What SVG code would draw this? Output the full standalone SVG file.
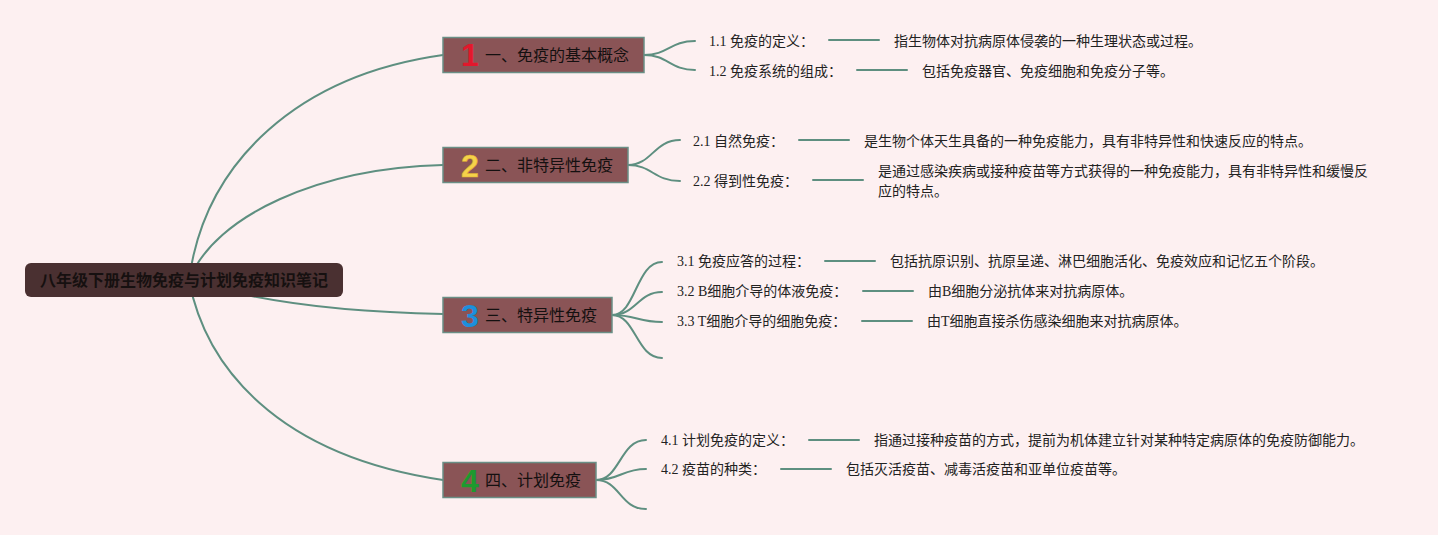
<svg xmlns="http://www.w3.org/2000/svg" width="1438" height="535" viewBox="0 0 1438 535">
<style>
.conn{fill:none;stroke:#5e8f80;stroke-width:2;stroke-linecap:round}
.root{fill:#4a3031}
.rtxt{font-family:"Noto Sans CJK SC","Noto Sans",sans-serif;font-size:16px;font-weight:bold;fill:#161010;text-anchor:middle}
.box{fill:#8a5456;stroke:#6a8f86;stroke-width:1.5}
.btxt{font-family:"Noto Sans CJK SC","Noto Sans",sans-serif;font-size:16px;fill:#141010}
.num{font-family:"Liberation Sans","DejaVu Sans",sans-serif;font-size:32px;font-weight:bold;text-anchor:middle}
.leaf{font-family:"Liberation Serif","Noto Sans CJK SC",serif;font-size:14px;fill:#222}
</style>
<rect x="0" y="0" width="1438" height="535" fill="#fdf0f1"/>
<g id="connectors">
<path class="conn" d="M189,280 C205,160 300,75 443,55"/>
<path class="conn" d="M189,280 C215,215 320,168 443,165"/>
<path class="conn" d="M189,280 C250,300 330,312 443,314"/>
<path class="conn" d="M189,280 C205,365 275,455 443,480"/>
<path class="conn" d="M644,55 C668,55 670,41 695,41"/>
<path class="conn" d="M644,55 C668,55 670,70 695,70"/>
<path class="conn" d="M628,165 C652,165 654,140 680,140"/>
<path class="conn" d="M628,165 C652,165 654,181 680,181"/>
<path class="conn" d="M612,315 C636,315 636,262 662,262"/>
<path class="conn" d="M612,315 C636,315 638,292 662,292"/>
<path class="conn" d="M612,315 C636,315 638,322 662,322"/>
<path class="conn" d="M612,315 C636,315 636,358 662,358"/>
<path class="conn" d="M596,480 C620,480 620,440 646,440"/>
<path class="conn" d="M596,480 C620,480 622,469 646,469"/>
<path class="conn" d="M596,480 C620,480 620,509 646,509"/>
<path class="conn" d="M829,40 H879"/>
<path class="conn" d="M857,70 H907"/>
<path class="conn" d="M799,140 H849"/>
<path class="conn" d="M813,180 H863"/>
<path class="conn" d="M825,261 H875"/>
<path class="conn" d="M863,291 H913"/>
<path class="conn" d="M862,321 H912"/>
<path class="conn" d="M809,440 H859"/>
<path class="conn" d="M781,469 H831"/>
</g>
<g id="root">
<rect class="root" x="25" y="263" width="318" height="34" rx="6"/>
<text class="rtxt" x="184" y="285.5">八年级下册生物免疫与计划免疫知识笔记</text>
</g>
<g id="b1">
<rect class="box" x="443" y="37.5" width="201" height="35"/>
<text class="num" x="470" y="66" fill="#e3182c">1</text>
<text class="btxt" x="485" y="60.5">一、免疫的基本概念</text>
</g>
<g id="b2">
<rect class="box" x="443" y="147.5" width="185" height="35"/>
<text class="num" x="470" y="176.5" fill="#f5d24a" stroke="#e0b030" stroke-width="0.6">2</text>
<text class="btxt" x="485" y="170.5">二、非特异性免疫</text>
</g>
<g id="b3">
<rect class="box" x="443" y="297.5" width="169" height="35"/>
<text class="num" x="470" y="326.5" fill="#1c8fdc">3</text>
<text class="btxt" x="485" y="320.5">三、特异性免疫</text>
</g>
<g id="b4">
<rect class="box" x="443" y="462.5" width="153" height="35"/>
<text class="num" x="470" y="491.5" fill="#1e9a2e">4</text>
<text class="btxt" x="485" y="485.5">四、计划免疫</text>
</g>
<g id="l11"><text class="leaf" x="709" y="46">1.1 免疫的定义：</text><text class="leaf" x="894" y="46">指生物体对抗病原体侵袭的一种生理状态或过程。</text></g>
<g id="l12"><text class="leaf" x="709" y="76">1.2 免疫系统的组成：</text><text class="leaf" x="922" y="76">包括免疫器官、免疫细胞和免疫分子等。</text></g>
<g id="l21"><text class="leaf" x="693" y="146">2.1 自然免疫：</text><text class="leaf" x="864" y="146">是生物个体天生具备的一种免疫能力，具有非特异性和快速反应的特点。</text></g>
<g id="l22"><text class="leaf" x="693" y="186">2.2 得到性免疫：</text><text class="leaf" x="878" y="176">是通过感染疾病或接种疫苗等方式获得的一种免疫能力，具有非特异性和缓慢反</text><text class="leaf" x="878" y="196">应的特点。</text></g>
<g id="l31"><text class="leaf" x="677" y="266">3.1 免疫应答的过程：</text><text class="leaf" x="890" y="266">包括抗原识别、抗原呈递、淋巴细胞活化、免疫效应和记忆五个阶段。</text></g>
<g id="l32"><text class="leaf" x="677" y="296">3.2 B细胞介导的体液免疫：</text><text class="leaf" x="928" y="296">由B细胞分泌抗体来对抗病原体。</text></g>
<g id="l33"><text class="leaf" x="677" y="326">3.3 T细胞介导的细胞免疫：</text><text class="leaf" x="927" y="326">由T细胞直接杀伤感染细胞来对抗病原体。</text></g>
<g id="l41"><text class="leaf" x="661" y="445">4.1 计划免疫的定义：</text><text class="leaf" x="874" y="445">指通过接种疫苗的方式，提前为机体建立针对某种特定病原体的免疫防御能力。</text></g>
<g id="l42"><text class="leaf" x="661" y="474">4.2 疫苗的种类：</text><text class="leaf" x="846" y="474">包括灭活疫苗、减毒活疫苗和亚单位疫苗等。</text></g>
</svg>
